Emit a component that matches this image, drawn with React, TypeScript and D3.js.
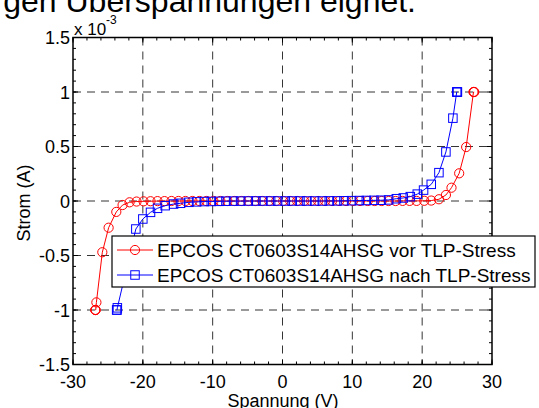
import React from "react";
import * as d3 from "d3";

// Spannung (V) and Strom (x 1e-3 A)
const redV = [-26.8, -26.8, -26.75, -26.65, -25.8, -24.9, -23.8, -22.9, -21.9, -20.9, -19.9, -18.9, -17.9, -16.9, -15.9, -14.9, -13.9, -12.9, -11.9, -10.9, -9.9, -8.9, -7.9, -6.9, -5.9, -4.9, -3.9, -2.9, -1.9, -0.9, 0.1, 1.1, 2.1, 3.1, 4.1, 5.1, 6.1, 7.1, 8.1, 9.1, 10.1, 11.1, 12.2, 13.2, 14.2, 15.2, 16.2, 17.2, 18.2, 19.2, 20.3, 21.3, 22.4, 23.4, 24.2, 25.3, 26.3, 27.35, 27.4, 27.45];
const redI = [-1.0, -1.0, -1.0, -0.93, -0.47, -0.245, -0.1, -0.037, -0.012, -0.005, -0.003, -0.002, -0.001, -0.001, 0, 0, 0, 0, 0, 0, 0, 0, 0, 0, 0, 0, 0, 0, 0, 0, 0, 0, 0, 0, 0, 0, 0, 0, 0, 0, 0, 0, 0, 0, 0, 0, 0, 0.001, 0.001, 0.001, 0.002, 0.004, 0.016, 0.055, 0.122, 0.254, 0.495, 1.0, 1.0, 1.0];

const blueV = [-23.75, -23.7, -23.65, -21.0, -20.0, -18.9, -17.9, -16.8, -15.6, -14.6, -13.4, -12.3, -11.2, -10.2, -9.1, -8.1, -7.0, -6.0, -4.9, -3.8, -2.8, -1.7, -0.7, 0.4, 1.4, 2.5, 3.5, 4.6, 5.7, 6.7, 7.8, 8.8, 9.9, 11.0, 12.0, 13.1, 14.1, 15.2, 16.3, 17.3, 18.3, 19.3, 20.2, 21.3, 22.4, 23.4, 24.4, 24.95, 25.0, 25.05];
const blueI = [-1.0, -1.0, -0.98, -0.257, -0.165, -0.104, -0.067, -0.043, -0.028, -0.021, -0.012, -0.008, -0.005, -0.004, -0.003, -0.002, -0.001, -0.001, 0, 0, 0, 0, 0, 0, 0, 0, 0, 0, 0, 0.001, 0.001, 0.002, 0.003, 0.004, 0.005, 0.006, 0.007, 0.01, 0.021, 0.028, 0.04, 0.063, 0.1, 0.153, 0.26, 0.45, 0.76, 1.0, 1.0, 1.0];

const xTicks = [-30, -20, -10, 0, 10, 20, 30];
const yTicks = [-1.5, -1, -0.5, 0, 0.5, 1, 1.5];
const xTickLabels = ["-30", "-20", "-10", "0", "10", "20", "30"];
const yTickLabels = ["-1.5", "-1", "-0.5", "0", "0.5", "1", "1.5"];
const seriesNames = ["EPCOS CT0603S14AHSG vor TLP-Stress", "EPCOS CT0603S14AHSG nach TLP-Stress"];

const W = 539, H = 408;
const L = 73, R = 492, T = 37.5, B = 364.5;
const FONT = "Arial, 'Liberation Sans', Helvetica, sans-serif";

export default function App() {
  const x = d3.scaleLinear().domain([-30, 30]).range([L, R]);
  const y = d3.scaleLinear().domain([-1.5, 1.5]).range([B, T]);
  const line = d3.line<[number, number]>().x(d => x(d[0])).y(d => y(d[1]));
  const red: [number, number][] = redV.map((v, i) => [v, redI[i]]);
  const blue: [number, number][] = blueV.map((v, i) => [v, blueI[i]]);

  const minorX = d3.range(-30, 30.01, 2);
  const minorY = d3.range(-15, 15.01, 1).map(v => v / 10);

  const legX = 112, legY = 236, legW = 423, legH = 51;
  const sq = 8.5;

  return (
    <svg width={W} height={H} style={{ position: "absolute", left: 0, top: 0, background: "#fff" }} fontFamily={FONT}>
      <rect x={0} y={0} width={W} height={H} fill="#fff" />
      <text x={416} y={12} fontSize={32} textAnchor="end" fill="#000">gen Überspannungen eignet.</text>

      {/* grid */}
      {xTicks.slice(1, -1).map(t => (
        <line key={"gx" + t} x1={x(t)} x2={x(t)} y1={T} y2={B} stroke="#000" strokeWidth={0.8} strokeDasharray="8,6" />
      ))}
      {yTicks.slice(1, -1).map(t => (
        <line key={"gy" + t} x1={L} x2={R} y1={y(t)} y2={y(t)} stroke="#000" strokeWidth={0.8} strokeDasharray="8,6" />
      ))}

      {/* minor ticks */}
      {minorX.map(t => (
        <g key={"mx" + t}>
          <line x1={x(t)} x2={x(t)} y1={B} y2={B - 3} stroke="#000" />
          <line x1={x(t)} x2={x(t)} y1={T} y2={T + 3} stroke="#000" />
        </g>
      ))}
      {minorY.map(t => (
        <g key={"my" + t}>
          <line x1={L} x2={L + 3} y1={y(t)} y2={y(t)} stroke="#000" />
          <line x1={R} x2={R - 3} y1={y(t)} y2={y(t)} stroke="#000" />
        </g>
      ))}
      {xTicks.map(t => (
        <g key={"Mx" + t}>
          <line x1={x(t)} x2={x(t)} y1={B} y2={B - 5} stroke="#000" />
          <line x1={x(t)} x2={x(t)} y1={T} y2={T + 5} stroke="#000" />
        </g>
      ))}
      {yTicks.map(t => (
        <g key={"My" + t}>
          <line x1={L} x2={L + 5} y1={y(t)} y2={y(t)} stroke="#000" />
          <line x1={R} x2={R - 5} y1={y(t)} y2={y(t)} stroke="#000" />
        </g>
      ))}

      {/* data */}
      <path d={line(red) || ""} fill="none" stroke="#ff0000" strokeWidth={1} />
      {red.map((d, i) => (
        <circle key={"r" + i} cx={x(d[0])} cy={y(d[1])} r={4.6} fill="none" stroke="#ff0000" strokeWidth={1} />
      ))}
      <path d={line(blue) || ""} fill="none" stroke="#0000ff" strokeWidth={1} />
      {blue.map((d, i) => (
        <rect key={"b" + i} x={x(d[0]) - sq / 2} y={y(d[1]) - sq / 2} width={sq} height={sq} fill="none" stroke="#0000ff" strokeWidth={1} />
      ))}

      {/* axes box */}
      <rect x={L} y={T} width={R - L} height={B - T} fill="none" stroke="#000" strokeWidth={1.5} />

      {/* tick labels */}
      {xTicks.map((t, i) => (
        <text key={"xl" + t} x={x(t)} y={388} fontSize={18} textAnchor="middle" fill="#000">{xTickLabels[i]}</text>
      ))}
      {yTicks.map((t, i) => (
        <text key={"yl" + t} x={70} y={y(t) + 6.5} fontSize={18} textAnchor="end" fill="#000">{yTickLabels[i]}</text>
      ))}
      <text x={74} y={35} fontSize={17} fill="#000">x 10</text>
      <text x={106} y={24} fontSize={12} fill="#000">-3</text>

      {/* axis labels */}
      <text x={283} y={407} fontSize={18} textAnchor="middle" fill="#000">Spannung (V)</text>
      <text transform={`translate(30,${203}) rotate(-90)`} fontSize={18} textAnchor="middle" fill="#000">Strom (A)</text>

      {/* legend */}
      <rect x={legX} y={legY} width={legW} height={legH} fill="#fff" stroke="#000" strokeWidth={1.2} />
      <line x1={117} x2={153} y1={250} y2={250} stroke="#ff0000" />
      <circle cx={135} cy={250} r={4.6} fill="none" stroke="#ff0000" />
      <text x={157} y={257} fontSize={19} fill="#000">{seriesNames[0]}</text>
      <line x1={117} x2={153} y1={275} y2={275} stroke="#0000ff" />
      <rect x={135 - sq / 2} y={275 - sq / 2} width={sq} height={sq} fill="none" stroke="#0000ff" />
      <text x={157} y={282} fontSize={19} fill="#000">{seriesNames[1]}</text>
    </svg>
  );
}
